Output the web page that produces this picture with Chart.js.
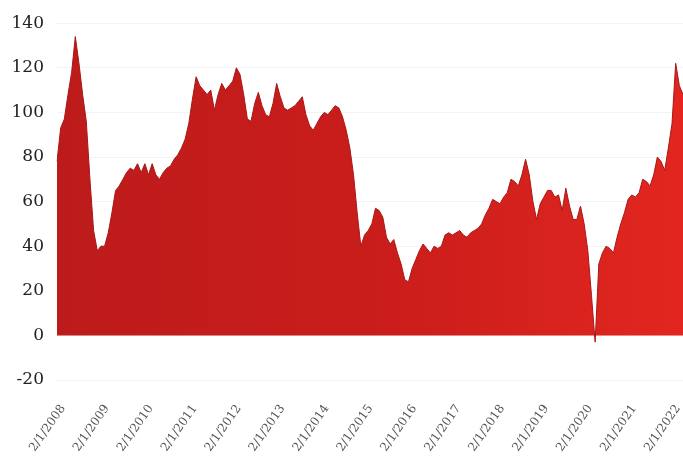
<!DOCTYPE html>
<html>
<head>
<meta charset="utf-8">
<script src="https://cdn.jsdelivr.net/npm/chart.js@4.4.1/dist/chart.umd.min.js"></script>
<style>
  html, body { margin: 0; padding: 0; background: #fff; }
  #wrap { width: 683px; height: 456px; position: relative; }
</style>
</head>
<body>
<div id="wrap"><canvas id="priceChart"></canvas></div>
<script>
// monthly values, Jan 2008 .. Apr 2022
var years = [2008, 2009, 2010, 2011, 2012, 2013, 2014, 2015, 2016, 2017, 2018, 2019, 2020, 2021, 2022];
var yearLabels = ["2/1/2008", "2/1/2009", "2/1/2010", "2/1/2011", "2/1/2012", "2/1/2013", "2/1/2014", "2/1/2015",
  "2/1/2016", "2/1/2017", "2/1/2018", "2/1/2019", "2/1/2020", "2/1/2021", "2/1/2022"];
var prices = [
  78, 93, 97, 108, 118, 134, 122, 108, 96, 70, 47, 38,      // 2008
  40, 40, 46, 55, 65, 67, 70, 73, 75, 74, 77, 73,           // 2009
  77, 72, 77, 72, 70, 73, 75, 76, 79, 81, 84, 88,           // 2010
  95, 106, 116, 112, 110, 108, 110, 101, 108, 113, 110, 112, // 2011
  114, 120, 117, 108, 97, 96, 104, 109, 103, 99, 98, 104,   // 2012
  113, 107, 102, 101, 102, 103, 105, 107, 99, 94, 92, 95,   // 2013
  98, 100, 99, 101, 103, 102, 98, 92, 84, 72, 55, 40,       // 2014
  45, 47, 50, 57, 56, 53, 44, 41, 43, 37, 32, 25,           // 2015
  24, 30, 34, 38, 41, 39, 37, 40, 39, 40, 45, 46,           // 2016
  45, 46, 47, 45, 44, 46, 47, 48, 50, 54, 57, 61,           // 2017
  60, 59, 62, 64, 70, 69, 67, 72, 79, 72, 60, 52,           // 2018
  59, 62, 65, 65, 62, 63, 56, 66, 58, 52, 52, 58,           // 2019
  50, 38, 18, -3, 32, 37, 40, 39, 37, 44, 50, 55,           // 2020
  61, 63, 62, 64, 70, 69, 67, 72, 80, 78, 74, 84,           // 2021
  95, 122, 112, 108                                         // 2022
];
var months = [];
for (var i = 0; i < prices.length; i++) {
  months.push(years[Math.floor(i / 12)] + "-" + (i % 12 + 1));
}

var gradCache = null;
function areaFill(ctx) {
  var area = ctx.chart.chartArea;
  if (!area) return "#c81e1e";
  if (!gradCache) {
    gradCache = ctx.chart.ctx.createLinearGradient(area.left, 0, area.right, 0);
    gradCache.addColorStop(0, "#bd1b1b");
    gradCache.addColorStop(0.5, "#c91d1b");
    gradCache.addColorStop(1, "#e2261f");
  }
  return gradCache;
}

var ctx = document.getElementById("priceChart").getContext("2d");
var priceChart = new Chart(ctx, {
  type: "line",
  data: {
    labels: months,
    datasets: [{
      data: prices,
      fill: "origin",
      backgroundColor: areaFill,
      borderColor: "#a81818",
      borderWidth: 1,
      pointRadius: 0,
      tension: 0
    }]
  },
  options: {
    responsive: true,
    maintainAspectRatio: false,
    animation: false,
    layout: { padding: { top: 22, left: 0, right: 0, bottom: 0 } },
    plugins: {
      legend: { display: false },
      tooltip: { enabled: false }
    },
    scales: {
      x: {
        grid: { display: false, drawTicks: false },
        border: { display: false },
        ticks: {
          autoSkip: false,
          minRotation: 55,
          maxRotation: 55,
          padding: 22,
          labelOffset: 6,
          color: "#555",
          font: { family: "DejaVu Serif", size: 12 },
          callback: function (value, index) {
            return index % 12 === 0 ? yearLabels[index / 12] : "";
          }
        },
        afterFit: function (s) {
          s.height = 76;
          s.paddingLeft = 0;
          s.paddingRight = 0;
        }
      },
      y: {
        min: -20,
        max: 140,
        ticks: {
          stepSize: 20,
          padding: 13,
          color: "#222",
          font: { family: "DejaVu Serif", size: 17 }
        },
        grid: { color: "#f3f3f3", drawTicks: false },
        border: { display: false },
        afterFit: function (s) {
          s.width = 57;
        }
      }
    }
  }
});
</script>
</body>
</html>
